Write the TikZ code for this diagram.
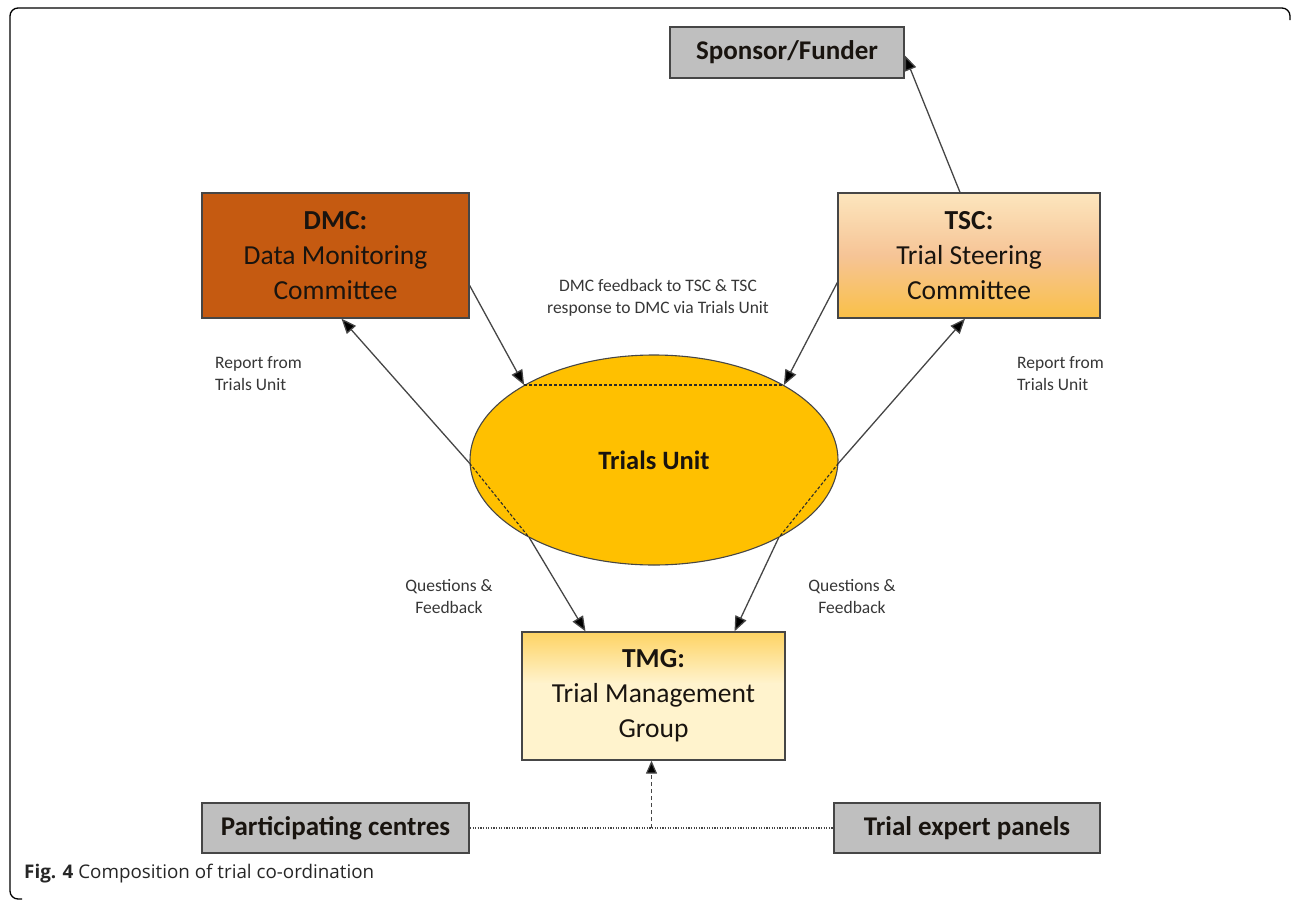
\documentclass[tikz,border=0pt]{standalone}
\usepackage{fontspec}
\setmainfont{Carlito}
\newfontfamily\capfont{Open Sans}
\usetikzlibrary{arrows.meta,shapes.geometric,calc}
\definecolor{dmcfill}{RGB}{197,90,17}
\definecolor{gold}{RGB}{255,192,0}
\definecolor{boxgray}{RGB}{191,191,191}
\definecolor{edgegray}{RGB}{70,70,70}
\definecolor{cream}{RGB}{255,243,205}
\definecolor{peach}{RGB}{246,196,150}
\definecolor{tgold}{RGB}{252,190,30}
\definecolor{txt}{RGB}{25,20,15}
\definecolor{lbl}{RGB}{55,55,55}
\pgfdeclareverticalshading{tscshade}{100bp}{color(0bp)=(tgold); color(12bp)=(tgold); color(50bp)=(peach); color(85bp)=(cream); color(100bp)=(cream)}
\pgfdeclareverticalshading{tmgshade}{100bp}{color(0bp)=(cream); color(55bp)=(cream); color(88bp)=(tgold); color(100bp)=(tgold)}
\tikzset{
  box/.style={draw=edgegray,line width=1.3pt,inner sep=0pt,align=center,text=txt,
    font=\fontsize{27.5}{35}\selectfont},
  graybox/.style={box,fill=boxgray,line width=1.8pt,font=\fontsize{27}{30}\selectfont\bfseries},
  lab/.style={text=lbl,font=\fontsize{17.5}{22}\selectfont,inner sep=0pt},
  conn/.style={draw=edgegray,line width=1.3pt,-{Triangle[length=15pt,width=12pt,fill=black]}},
  chord/.style={draw=edgegray!60!black,line width=1.1pt,dash pattern=on 3pt off 2pt},
  dotline/.style={draw=edgegray,line width=1.3pt,dash pattern=on 1.3pt off 1.3pt},
}
\begin{document}
\begin{tikzpicture}[x=1pt,y=-1pt]
\useasboundingbox (0,0) rectangle (1293,900);
% frame
\draw[line width=1.3pt,rounded corners=8pt] (22,899) -- (10,899) -- (10,8) -- (1290,8) -- (1290,20);

% nodes
\node[graybox,minimum width=234pt,minimum height=51pt] (sp) at (787,52.5) {Sponsor/Funder};
\node[box,fill=dmcfill,minimum width=267pt,minimum height=125pt] (dmc) at (335.5,255.5)
  {\textbf{DMC:}\\Data Monitoring\\Committee};
\node[box,shading=tscshade,minimum width=262pt,minimum height=125pt] (tsc) at (969,255.5)
  {\textbf{TSC:}\\Trial Steering\\Committee};
\node[ellipse,draw=edgegray,line width=1.1pt,fill=gold,minimum width=368pt,minimum height=210pt,
  inner sep=0pt,text=txt,font=\fontsize{26.5}{30}\selectfont\bfseries] (tu) at (654,460) {Trials Unit};
\node[box,shading=tmgshade,minimum width=263pt,minimum height=128pt] (tmg) at (653.5,696)
  {\textbf{TMG:}\\Trial Management\\Group};
\node[graybox,minimum width=267pt,minimum height=50pt] (pc) at (335.5,828) {Participating centres};
\node[graybox,minimum width=266pt,minimum height=50pt] (te) at (967,828) {Trial expert panels};

% dashed chords in ellipse
\draw[chord] (tu.150) -- (tu.30);
\draw[chord] (tu.181) -- (tu.212);
\draw[chord] (tu.-1) -- (tu.-32);

% connectors
\draw[conn] ([yshift=-30pt]dmc.east) -- (tu.150);
\draw[conn] ([yshift=-27pt]tsc.west) -- (tu.30);
\draw[conn] (tu.181) -- ([xshift=6pt]dmc.south);
\draw[conn] (tu.-1) -- ([xshift=-4pt]tsc.south);
\draw[conn] ([xshift=-9pt]tsc.north) -- ([yshift=-3pt]sp.east);
\draw[conn] (tu.212) -- ([xshift=-68pt]tmg.north);
\draw[conn] (tu.-32) -- ([xshift=81pt]tmg.north);

% bottom dotted links
\draw[dotline] (pc.east) -- (te.west);
\coordinate (m) at ($(pc.east)!0.5!(te.west)$);
\draw[draw=edgegray,line width=1.2pt,dash pattern=on 4pt off 3pt,-{Triangle[length=13pt,width=11pt,fill=black]}] (m) -- (m |- tmg.south);

% labels
\node[lab,anchor=west,align=left] (l1) at (215,374) {Report from\\Trials Unit};
\node[lab,anchor=west,align=left] (l2) at (1017,374) {Report from\\Trials Unit};
\node[lab,align=center] (l3) at (658,298) {DMC feedback to TSC \& TSC\\response to DMC via Trials Unit};
\node[lab,align=center] (l4) at (449,597) {Questions \&\\Feedback};
\node[lab,align=center] (l5) at (852,597) {Questions \&\\Feedback};

% caption
\node[anchor=base west,inner sep=0pt,font=\capfont\fontsize{18.8}{22}\selectfont,text=black!85] (cap) at (24,878)
  {\textbf{Fig. 4} Composition of trial co-ordination};
\end{tikzpicture}
\end{document}
